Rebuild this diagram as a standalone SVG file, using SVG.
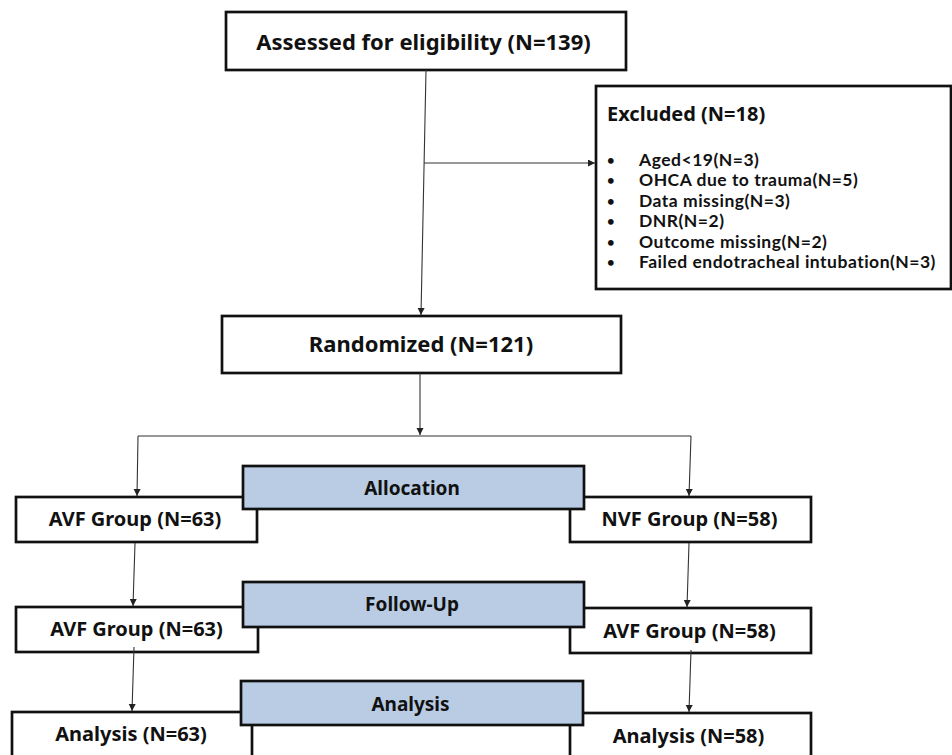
<svg xmlns="http://www.w3.org/2000/svg" width="952" height="755" viewBox="0 0 952 755">
<defs>
<style>
.box{fill:#fff;stroke:#111;stroke-width:2.7}
.hdr{fill:#b9cce4;stroke:#111;stroke-width:2.7}
.t{font-family:"Noto Sans","DejaVu Sans",sans-serif;font-weight:bold;fill:#111;text-anchor:middle}
.l{font-family:"Noto Sans","DejaVu Sans",sans-serif;font-weight:bold;fill:#111}
.li{font-family:Lato,"Noto Sans",sans-serif;font-weight:bold;fill:#111;letter-spacing:0.5px}
.b{font-size:13px}
.c{fill:none;stroke:#333;stroke-width:1.1}
</style>
<marker id="ah" markerUnits="userSpaceOnUse" markerWidth="8" markerHeight="8" refX="7" refY="3.5" orient="auto">
<path d="M0,0 L7,3.5 L0,7 z" fill="#222"/>
</marker>
</defs>
<rect width="952" height="755" fill="#fff"/>

<g id="assessed">
<rect class="box" x="226" y="12" width="400" height="58"/>
<text class="t" x="423.5" y="50" font-size="22">Assessed for eligibility (N=139)</text>
</g>

<g id="excluded">
<rect class="box" x="596" y="86" width="355" height="203"/>
<text class="l" x="607" y="120.5" font-size="20">Excluded (N=18)</text>
<text class="li" font-size="17.5"><tspan class="b" x="607" y="165">•</tspan><tspan x="639" y="166">Aged&lt;19(N=3)</tspan><tspan class="b" x="607" y="185.4">•</tspan><tspan x="639" y="186.4">OHCA due to trauma(N=5)</tspan><tspan class="b" x="607" y="205.8">•</tspan><tspan x="639" y="206.8">Data missing(N=3)</tspan><tspan class="b" x="607" y="226.2">•</tspan><tspan x="639" y="227.2">DNR(N=2)</tspan><tspan class="b" x="607" y="246.6">•</tspan><tspan x="639" y="247.6">Outcome missing(N=2)</tspan><tspan class="b" x="607" y="267">•</tspan><tspan x="639" y="268">Failed endotracheal intubation(N=3)</tspan></text>
</g>

<g id="randomized">
<rect class="box" x="222" y="316" width="399" height="57"/>
<text class="t" x="421" y="352" font-size="22">Randomized (N=121)</text>
</g>

<g id="avf-alloc">
<rect class="box" x="16" y="497" width="241" height="45"/>
<text class="t" x="135" y="526" font-size="20">AVF Group (N=63)</text>
</g>
<g id="nvf-alloc">
<rect class="box" x="570" y="497" width="241" height="45"/>
<text class="t" x="689.5" y="526" font-size="20">NVF Group (N=58)</text>
</g>
<g id="avf-follow-left">
<rect class="box" x="16" y="607" width="242" height="45"/>
<text class="t" x="136.5" y="636" font-size="20">AVF Group (N=63)</text>
</g>
<g id="avf-follow-right">
<rect class="box" x="570" y="608" width="241" height="45"/>
<text class="t" x="689.5" y="638" font-size="20">AVF Group (N=58)</text>
</g>
<g id="analysis-left">
<rect class="box" x="12" y="712" width="240" height="60"/>
<text class="t" x="131" y="741" font-size="20">Analysis (N=63)</text>
</g>
<g id="analysis-right">
<rect class="box" x="570" y="713" width="241" height="60"/>
<text class="t" x="688.5" y="743" font-size="20">Analysis (N=58)</text>
</g>

<g id="allocation">
<rect class="hdr" x="243" y="466" width="341" height="43"/>
<text class="t" x="412" y="495" font-size="19">Allocation</text>
</g>
<g id="follow-up">
<rect class="hdr" x="243" y="582" width="341" height="45"/>
<text class="t" x="412" y="611" font-size="19">Follow-Up</text>
</g>
<g id="analysis">
<rect class="hdr" x="241" y="681" width="342" height="44"/>
<text class="t" x="410.5" y="711" font-size="19">Analysis</text>
</g>

<g id="connectors">
<line class="c" x1="426" y1="70" x2="421" y2="315" marker-end="url(#ah)"/>
<line class="c" x1="424" y1="163" x2="595" y2="163" marker-end="url(#ah)"/>
<line class="c" x1="420" y1="373" x2="420" y2="435" marker-end="url(#ah)"/>
<line class="c" x1="138" y1="436" x2="691" y2="436"/>
<line class="c" x1="138" y1="436" x2="137" y2="496" marker-end="url(#ah)"/>
<line class="c" x1="691" y1="436" x2="689" y2="496" marker-end="url(#ah)"/>
<line class="c" x1="135" y1="543" x2="133" y2="606" marker-end="url(#ah)"/>
<line class="c" x1="689" y1="543" x2="687" y2="607" marker-end="url(#ah)"/>
<line class="c" x1="134" y1="647" x2="132" y2="711" marker-end="url(#ah)"/>
<line class="c" x1="691" y1="650" x2="689" y2="712" marker-end="url(#ah)"/>
</g>
</svg>
